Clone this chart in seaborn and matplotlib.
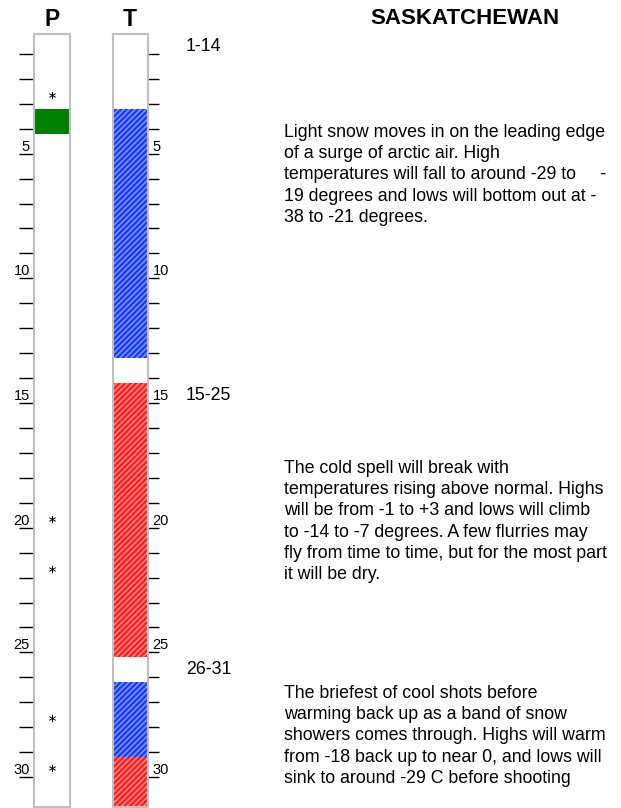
import matplotlib
matplotlib.use("Agg")
import matplotlib.pyplot as plt
import matplotlib.transforms as mtransforms
import seaborn as sns

# --- data ---
n_days = 31
tick_days = list(range(1, 31))
label_days = [5, 10, 15, 20, 25, 30]

# temperature blocks (first day, last day, kind)
t_start = [4, 15, 27, 30]
t_end = [13, 25, 29, 31]
t_kind = ["cold", "warm", "cold", "warm"]

# precipitation
rain_days = [4]
snow_days = [3, 20, 22, 28, 30]

region = "SASKATCHEWAN"
period_labels = ["1-14", "15-25", "26-31"]
period_start = [1, 15, 26]
period_text = [
    "Light snow moves in on the leading edge\n"
    "of a surge of arctic air. High\n"
    "temperatures will fall to around -29 to     -\n"
    "19 degrees and lows will bottom out at -\n"
    "38 to -21 degrees.",
    "The cold spell will break with\n"
    "temperatures rising above normal. Highs\n"
    "will be from -1 to +3 and lows will climb\n"
    "to -14 to -7 degrees. A few flurries may\n"
    "fly from time to time, but for the most part\n"
    "it will be dry.",
    "The briefest of cool shots before\n"
    "warming back up as a band of snow\n"
    "showers comes through. Highs will warm\n"
    "from -18 back up to near 0, and lows will\n"
    "sink to around -29 C before shooting",
]
# where each paragraph is centred (in day units)
text_center = [5.65, 19.55, 28.15]

colors = {"cold": ("#1a3cff", "#7f98ff"), "warm": ("#ff1e1e", "#ff8c8c")}

sns.set_theme(style="white")
plt.rcParams["font.family"] = ["Liberation Sans", "DejaVu Sans"]
plt.rcParams["text.color"] = "black"
plt.rcParams["axes.labelcolor"] = "black"
plt.rcParams["xtick.color"] = "black"
plt.rcParams["ytick.color"] = "black"
plt.rcParams["hatch.linewidth"] = 1.1

W, H = 621, 808
fig = plt.figure(figsize=(W / 100, H / 100), dpi=100)
ax_p = fig.add_axes([34 / W, 1 - 807 / H, 36 / W, 773 / H])
ax_t = fig.add_axes([112.5 / W, 1 - 807 / H, 35 / W, 773 / H])

for ax, name in [(ax_p, "P"), (ax_t, "T")]:
    ax.set_ylim(n_days, 0)
    ax.set_xlim(-0.5, 0.5)
    ax.set_xticks([])
    ax.set_facecolor("white")
    for sp in ax.spines.values():
        sp.set_visible(True)
        sp.set_color("#c0c0c0")
        sp.set_linewidth(1.5)
    ax.set_title(name, fontsize=16.5, fontweight="bold", pad=6, color="black")
    ax.set_yticks([d - 0.2 for d in tick_days])
    ax.set_yticklabels([str(d) if d in label_days else "" for d in tick_days])

# P column
ax_p.bar([0] * len(rain_days), [1] * len(rain_days),
         bottom=[d - 1 for d in rain_days], width=1, color="#008000", linewidth=0)
sns.scatterplot(x=[0] * len(snow_days), y=[d - 0.55 for d in snow_days], ax=ax_p,
                marker=r"$\ast$", s=28, color="black", linewidth=0, legend=False)
ax_p.set_xlim(-0.5, 0.5)
ax_p.set_ylim(n_days, 0)
ax_p.set_xlabel("")
ax_p.set_ylabel("")
ax_p.yaxis.set_ticks_position("left")
ax_p.tick_params(axis="y", left=True, direction="out", length=10.8, width=1,
                 color="black", pad=-7.8, labelsize=10.5, labelcolor="black")
for lab in ax_p.get_yticklabels():
    lab.set_va("bottom")

# T column
for s, e, k in zip(t_start, t_end, t_kind):
    face, hatch = colors[k]
    ax_t.bar(0, e - s + 1, bottom=s - 1, width=1, color=face,
             edgecolor=hatch, hatch="//////", linewidth=0)
ax_t.yaxis.tick_right()
ax_t.tick_params(axis="y", right=True, direction="out", length=7.9, width=1,
                 color="black", pad=-4.3, labelsize=10.5, labelcolor="black")
for lab in ax_t.get_yticklabels():
    lab.set_va("bottom")

# text on the right
fig.text(465 / W, 1 - 18 / H, region, ha="center", va="center",
         fontsize=16, fontweight="bold")
trans = mtransforms.blended_transform_factory(fig.transFigure, ax_t.transData)
for lab, start, txt, yc in zip(period_labels, period_start, period_text, text_center):
    fig.text(186 / W, start - 0.5, lab, transform=trans, ha="left", va="center",
             fontsize=12.8)
    fig.text(284 / W, yc, txt, transform=trans, ha="left", va="center",
             fontsize=12.8, linespacing=1.32)

fig.savefig("out.png", dpi=100)
